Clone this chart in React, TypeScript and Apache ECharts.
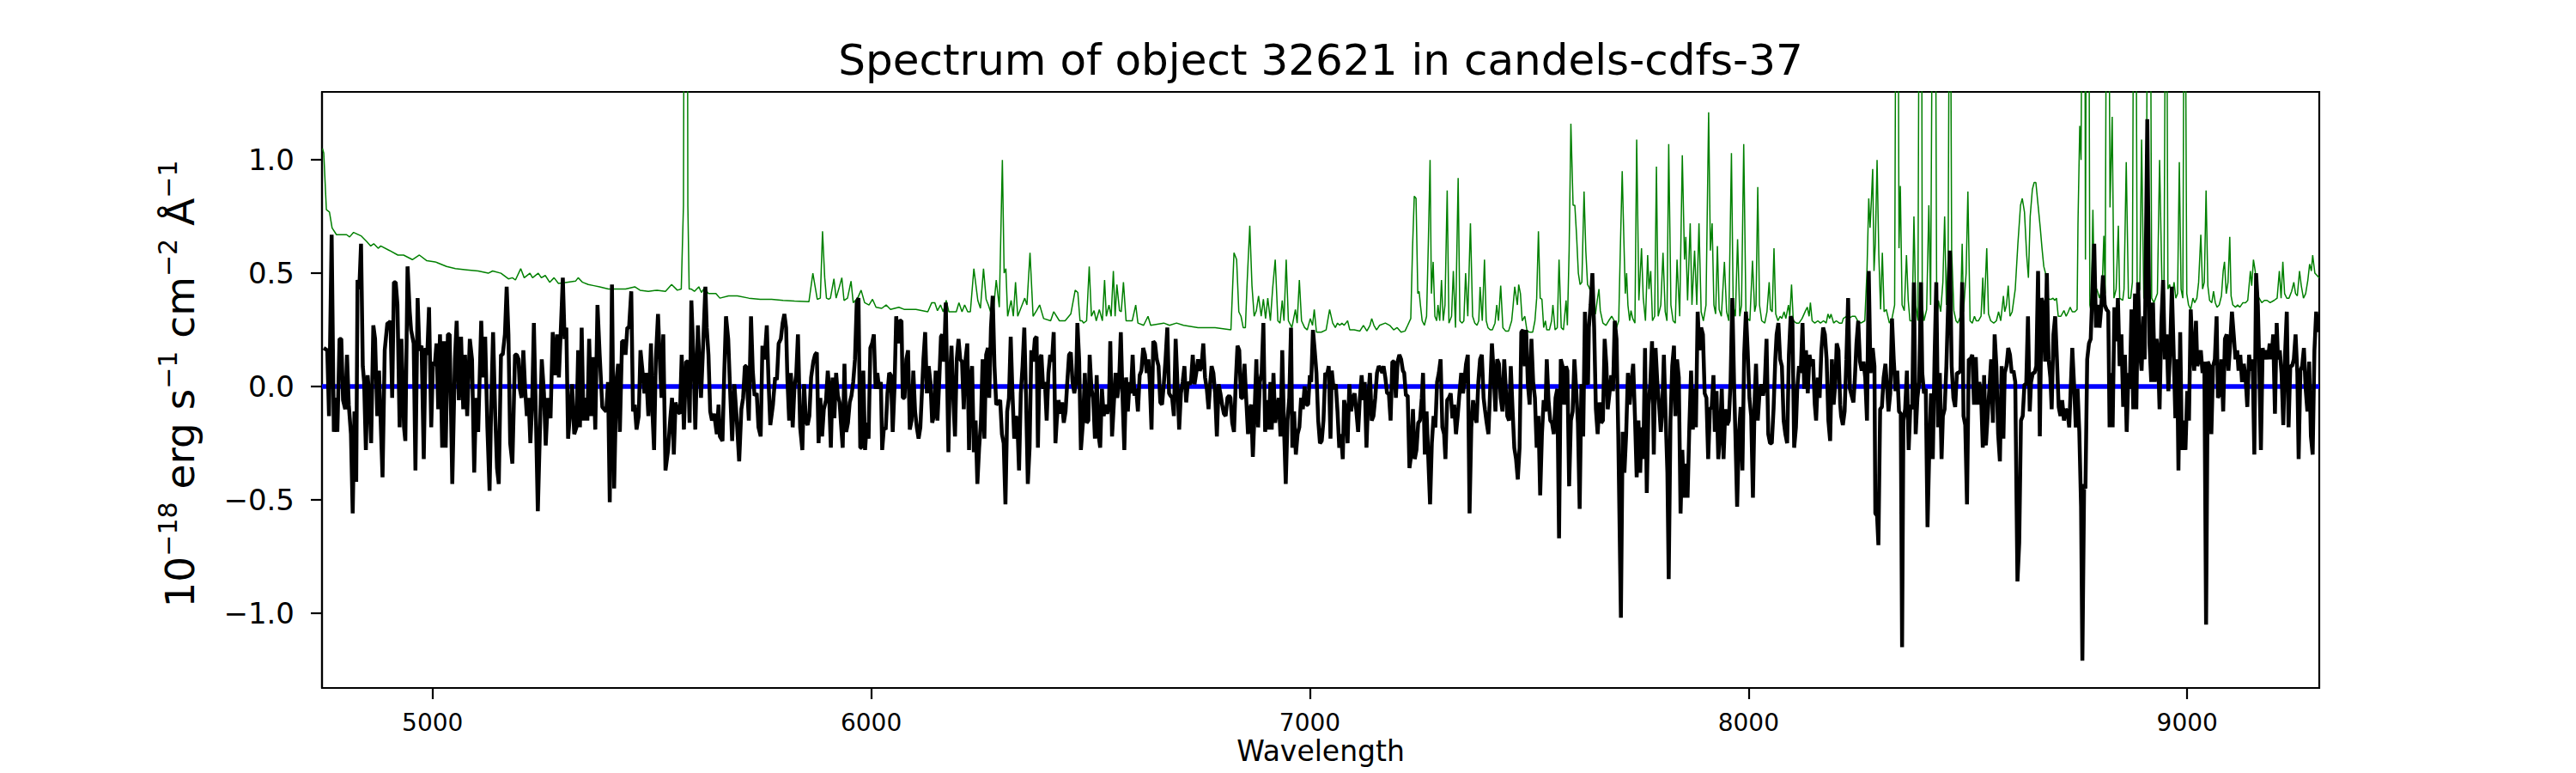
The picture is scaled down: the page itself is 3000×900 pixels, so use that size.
import React, { useEffect, useRef } from "react";
import * as echarts from "echarts";

const FONT = "DejaVu Sans";
const TITLE = "Spectrum of object 32621 in candels-cdfs-37";
const X_LABEL = "Wavelength";
const X_MIN = 4748;
const X_MAX = 9301;
const Y_MIN = -1.33;
const Y_MAX = 1.3;
const X_TICKS = [5000, 6000, 7000, 8000, 9000];
const Y_TICKS = [-1, -0.5, 0, 0.5, 1];
const ZERO_LEVEL = 0;

// Flux (black), [wavelength, flux]
const FLUX_A = [[4752,0.17],[4760,0.16],[4764,-0.13],[4770,0.67],[4775,-0.20],[4779,-0.05],[4783,-0.20],[4788,0.21],[4792,0.21],[4796,-0.06],[4801,-0.10],[4805,0.14],[4809,-0.08],[4814,-0.21],[4818,-0.56],[4822,-0.11],[4826,-0.42],[4829,0.47],[4833,0.43],[4837,0.63],[4841,0.09],[4844,0.02],[4848,-0.28],[4852,0.05],[4856,-0.05],[4860,-0.25],[4865,0.27],[4869,0.21],[4874,-0.13],[4878,0.07],[4886,-0.40],[4891,0.16],[4897,0.28],[4901,0.28],[4904,0.29],[4908,-0.05],[4912,0.46],[4916,0.46],[4920,0.36],[4925,-0.18],[4929,0.21],[4935,-0.18],[4938,-0.24],[4943,0.53],[4948,0.33],[4951,0.25],[4957,0.19],[4961,-0.37],[4966,0.39],[4970,0.16],[4975,0.18],[4980,-0.32],[4984,0.17],[4988,0.14],[4992,0.35],[4997,-0.18],[5001,0.11],[5005,0.09],[5009,0.19],[5013,-0.10],[5017,0.23],[5022,-0.27],[5026,0.20],[5030,-0.27],[5035,0.23],[5039,0.23],[5045,-0.43],[5051,0.12],[5055,0.29],[5060,-0.06],[5065,0.22],[5070,-0.10],[5074,0.14],[5079,-0.13],[5085,0.21],[5090,0.12],[5095,-0.38],[5099,-0.05],[5104,-0.20],[5111,0.29],[5115,0.04],[5120,0.22],[5125,-0.18],[5130,-0.46],[5134,-0.06],[5138,0.24],[5143,-0.13],[5147,-0.36],[5151,-0.43],[5156,0.14],[5160,0.14],[5165,0.23],[5169,0.44],[5173,0.23],[5177,-0.25],[5182,-0.34],[5188,0.14],[5192,0.14],[5196,0.12],[5199,-0.01],[5203,-0.05],[5207,0.16],[5211,-0.01],[5215,-0.13],[5219,-0.05],[5223,-0.25],[5227,-0.08],[5231,0.28],[5236,-0.17],[5240,-0.55],[5245,-0.18],[5249,0.12],[5254,-0.03],[5258,-0.26],[5263,-0.05],[5269,-0.14],[5274,0.24],[5279,0.05],[5284,0.23],[5288,0.04],[5292,0.23],[5297,0.48],[5301,0.21],[5305,0.26],[5309,-0.23],[5313,-0.13],[5318,0.01],[5323,-0.21]];
const FLUX_B = [[5328,-0.18],[5332,0.16],[5336,-0.18],[5340,0.26],[5344,-0.15],[5349,-0.05],[5353,-0.15],[5357,0.21],[5362,-0.13],[5366,0.13],[5371,-0.19],[5376,0.36],[5381,0.14],[5387,-0.09],[5391,-0.10],[5396,-0.11],[5400,0.02],[5404,-0.51],[5409,0.45],[5414,-0.45],[5419,0.02],[5423,0.10],[5427,-0.20],[5432,0.20],[5437,0.20],[5440,0.14],[5444,0.26],[5448,0.26],[5453,0.42],[5457,-0.11],[5461,-0.08],[5465,-0.19],[5470,-0.13],[5474,0.16],[5479,0.06],[5483,-0.03],[5487,0.06],[5492,-0.13],[5498,0.19],[5501,-0.10],[5505,-0.28],[5509,0.12],[5514,0.32],[5518,0.12],[5522,-0.05],[5526,0.23],[5531,-0.37],[5537,-0.28],[5542,-0.14],[5546,-0.05],[5550,-0.30],[5554,-0.07],[5559,-0.11],[5564,-0.12],[5568,0.14],[5573,-0.19],[5578,0.11],[5582,0.11],[5586,-0.16],[5590,0.38],[5595,0.12],[5599,-0.19],[5605,0.27],[5608,0.12],[5612,-0.05],[5616,0.14],[5622,0.44],[5625,0.26],[5629,0.14],[5633,-0.11],[5637,-0.15],[5642,-0.12],[5648,-0.21],[5652,-0.08],[5655,-0.22],[5661,-0.24],[5665,0.06],[5669,0.31],[5674,0.21],[5679,-0.05],[5683,-0.24],[5688,0.01],[5693,-0.13],[5699,-0.33],[5704,-0.10],[5708,-0.05],[5712,0.09],[5715,0.09],[5721,-0.15],[5726,0.31],[5730,0.07],[5734,-0.04],[5739,-0.03],[5743,-0.18],[5748,-0.22],[5752,0.18],[5757,0.12],[5762,0.27],[5766,0.02],[5770,-0.17],[5776,-0.08],[5781,0.04],[5785,0.03],[5789,0.19],[5794,0.21],[5798,0.28],[5802,0.32],[5806,0.26],[5809,0.03],[5813,-0.15],[5817,0.06],[5821,-0.18],[5825,0.00],[5829,0.05],[5833,0.23],[5838,-0.18],[5843,-0.28],[5847,0.01],[5851,-0.15],[5855,-0.17],[5859,-0.13],[5863,0.04],[5868,0.11],[5872,0.14],[5876,0.15],[5880,-0.25],[5884,-0.05],[5888,-0.22],[5892,-0.10],[5897,-0.06],[5901,0.07]];
const FLUX_C = [[5903,0.02],[5908,-0.27],[5912,0.04],[5916,-0.14],[5920,0.06],[5924,-0.04],[5928,-0.07],[5931,-0.16],[5935,-0.27],[5939,0.10],[5943,-0.20],[5947,-0.16],[5951,-0.07],[5955,-0.04],[5959,0.02],[5963,0.12],[5967,0.37],[5971,0.39],[5975,-0.27],[5978,-0.27],[5982,0.07],[5986,-0.28],[5990,-0.16],[5994,-0.23],[5998,0.17],[6002,0.19],[6006,0.23],[6010,-0.01],[6014,0.06],[6018,-0.01],[6022,0.02],[6025,-0.28],[6029,-0.18],[6033,-0.19],[6037,-0.03],[6041,0.06],[6045,0.05],[6049,-0.20],[6053,-0.01],[6057,0.31],[6061,0.19],[6065,0.29],[6069,0.29],[6072,-0.05],[6076,-0.05],[6080,0.12],[6084,0.16],[6088,-0.19],[6092,-0.15],[6096,0.07],[6100,-0.11],[6104,-0.18],[6108,-0.23],[6112,-0.18],[6116,-0.01],[6119,0.12],[6123,0.24],[6127,-0.03],[6131,0.09],[6135,0.02],[6139,-0.16],[6143,-0.13],[6147,0.07],[6151,-0.15],[6155,0.02],[6159,0.22],[6162,0.23],[6166,0.11],[6170,0.37],[6176,-0.29],[6179,0.02],[6183,0.18],[6187,-0.05],[6191,-0.22],[6195,0.12],[6199,0.21],[6203,0.12],[6207,0.11],[6211,-0.10],[6215,0.12],[6219,0.19],[6223,-0.28],[6226,0.02],[6230,0.09],[6234,-0.29],[6238,-0.15],[6242,-0.43],[6246,-0.27],[6250,-0.16],[6254,0.12],[6258,-0.23],[6262,0.14],[6266,0.17],[6269,-0.05],[6273,0.26],[6277,0.40],[6281,0.09],[6285,-0.08],[6290,-0.07],[6294,-0.06],[6298,-0.21],[6302,-0.25],[6306,-0.52],[6310,-0.11],[6314,-0.05],[6318,0.22],[6322,-0.03],[6326,-0.23],[6330,-0.13],[6333,-0.15],[6337,-0.37],[6341,-0.03],[6345,0.09],[6349,0.26],[6353,-0.05],[6357,-0.43],[6361,-0.27],[6365,0.16],[6369,0.11],[6373,0.21],[6377,0.22],[6380,-0.27],[6384,0.12],[6388,0.14],[6392,-0.01],[6396,0.02],[6400,-0.15],[6404,0.06],[6408,0.14],[6412,0.11],[6416,0.24],[6420,-0.25],[6423,-0.15],[6427,-0.06],[6431,-0.12],[6435,-0.07],[6439,-0.16],[6443,-0.11],[6447,0.02],[6451,0.14],[6455,0.15],[6459,0.02],[6463,-0.03],[6467,0.02],[6470,0.28],[6474,0.12],[6478,-0.28]];
const FLUX_D = [[6483,-0.15],[6487,0.06],[6491,-0.16],[6495,-0.15],[6498,0.14],[6502,-0.01],[6506,-0.05],[6510,-0.23],[6514,0.05],[6518,-0.21],[6522,-0.27],[6526,-0.01],[6530,-0.13],[6534,-0.08],[6538,-0.12],[6542,-0.08],[6545,0.20],[6549,-0.22],[6553,-0.08],[6557,0.06],[6561,-0.05],[6565,0.02],[6569,0.24],[6573,-0.05],[6577,-0.28],[6581,0.04],[6585,-0.11],[6589,0.02],[6592,-0.03],[6596,0.14],[6600,-0.04],[6604,-0.01],[6608,-0.11],[6612,0.05],[6616,0.07],[6620,0.17],[6624,0.14],[6628,0.06],[6632,0.12],[6635,0.02],[6639,-0.19],[6643,0.20],[6647,0.19],[6651,0.12],[6655,0.09],[6659,-0.07],[6663,-0.08],[6667,0.01],[6671,0.12],[6675,0.26],[6679,-0.03],[6682,-0.04],[6686,-0.05],[6690,-0.13],[6694,0.21],[6698,0.02],[6702,-0.19],[6706,-0.03],[6710,0.02],[6714,0.09],[6718,-0.07],[6722,0.02],[6726,0.01],[6729,0.02],[6733,0.14],[6737,0.01],[6741,0.06],[6745,0.12],[6749,0.07],[6753,0.09],[6757,0.19],[6761,0.04],[6765,-0.01],[6769,-0.10],[6773,0.02],[6776,0.09],[6780,0.06],[6784,-0.03],[6788,-0.22],[6792,0.01],[6796,-0.03],[6800,-0.08],[6804,-0.12],[6808,-0.13],[6812,-0.05],[6816,-0.04],[6819,-0.05],[6823,-0.16],[6827,-0.20],[6831,0.02],[6835,0.18],[6839,0.16],[6843,-0.05],[6847,-0.05],[6851,0.10],[6855,-0.06],[6859,-0.21],[6863,-0.10],[6866,-0.08],[6870,-0.31],[6874,-0.11],[6878,0.12],[6882,-0.18],[6886,0.02],[6890,0.06],[6894,0.28],[6898,-0.20],[6902,-0.06],[6906,-0.19],[6910,0.02],[6913,-0.19],[6917,0.06],[6921,-0.16],[6925,-0.10],[6929,-0.05],[6933,-0.22],[6937,0.16],[6941,-0.18],[6945,-0.43],[6949,-0.15],[6953,-0.05],[6957,0.26],[6960,-0.27],[6964,-0.11],[6968,-0.30],[6972,-0.21],[6976,-0.18],[6980,-0.05],[6984,-0.10],[6988,0.00],[6992,-0.08],[6996,-0.08],[7000,0.05],[7003,0.02],[7007,0.25],[7011,0.16],[7015,0.06],[7019,-0.15],[7023,-0.25],[7027,-0.24],[7031,-0.15],[7035,0.06],[7039,0.05],[7043,0.09],[7047,-0.23],[7050,0.07],[7054,-0.01]];
const FLUX_E = [[7059,0.01],[7063,-0.11],[7067,-0.27],[7071,-0.21],[7075,-0.32],[7078,-0.06],[7082,-0.10],[7086,-0.25],[7090,0.01],[7094,-0.11],[7098,-0.05],[7102,-0.03],[7106,-0.11],[7110,-0.20],[7114,-0.05],[7118,0.05],[7122,-0.06],[7125,0.02],[7129,-0.27],[7133,-0.05],[7137,0.06],[7141,-0.15],[7145,-0.13],[7149,-0.05],[7153,0.06],[7157,0.09],[7161,0.08],[7165,0.06],[7168,0.09],[7172,0.04],[7176,-0.03],[7180,-0.03],[7184,-0.15],[7188,0.11],[7192,0.11],[7196,-0.05],[7200,0.11],[7204,0.14],[7208,0.12],[7212,0.07],[7215,0.06],[7219,-0.04],[7223,-0.04],[7227,-0.36],[7231,-0.30],[7235,-0.10],[7239,-0.32],[7243,-0.28],[7247,-0.16],[7251,-0.15],[7255,-0.05],[7258,0.06],[7262,-0.30],[7266,-0.11],[7270,-0.32],[7274,-0.52],[7278,-0.25],[7282,-0.13],[7286,-0.18],[7290,0.02],[7294,0.06],[7298,0.12],[7302,-0.18],[7306,-0.21],[7309,-0.32],[7313,-0.06],[7317,-0.05],[7321,-0.03],[7325,-0.14],[7329,-0.08],[7333,-0.21],[7337,-0.13],[7341,-0.03],[7345,0.06],[7349,-0.03],[7352,0.02],[7356,0.10],[7360,0.14],[7364,-0.56],[7368,-0.18],[7372,-0.06],[7376,-0.13],[7380,-0.16],[7384,0.02],[7388,0.12],[7392,0.14],[7396,-0.05],[7399,-0.10],[7403,-0.16],[7407,-0.21],[7411,-0.01],[7415,0.19],[7419,0.06],[7423,-0.11],[7427,0.12],[7431,0.10],[7435,-0.05],[7439,-0.11],[7443,0.12],[7446,0.01],[7450,-0.13],[7454,-0.15],[7458,0.09],[7462,-0.10],[7466,-0.27],[7470,-0.32],[7474,-0.41],[7478,-0.27],[7482,0.24],[7486,0.25],[7490,0.09],[7493,0.25],[7497,0.01],[7501,-0.08],[7505,0.21],[7509,0.02],[7513,-0.05],[7517,-0.27],[7521,-0.13],[7525,-0.48],[7529,-0.21],[7533,-0.06],[7537,-0.11],[7540,0.12],[7544,-0.06],[7548,-0.15],[7552,-0.16],[7556,-0.21],[7560,-0.05],[7564,-0.01],[7568,-0.67],[7572,0.12],[7576,0.09],[7580,-0.08],[7584,0.09],[7587,0.07],[7591,-0.44],[7595,-0.15],[7599,-0.11],[7603,0.12],[7607,-0.01],[7611,-0.16],[7615,-0.54],[7619,0.01],[7623,-0.22],[7627,0.33],[7631,0.02],[7634,0.01]];
const FLUX_F = [[7636,0.26],[7640,0.36],[7644,0.50],[7648,0.26],[7652,-0.10],[7656,-0.21],[7660,-0.07],[7664,-0.16],[7668,-0.15],[7672,0.21],[7676,0.09],[7679,-0.10],[7683,-0.03],[7687,0.05],[7691,-0.02],[7695,0.29],[7699,0.21],[7703,-0.21],[7709,-1.02],[7713,-0.20],[7717,-0.38],[7721,-0.21],[7725,0.06],[7729,-0.08],[7733,0.02],[7737,0.10],[7741,-0.13],[7745,-0.40],[7749,-0.15],[7753,-0.38],[7756,-0.18],[7760,-0.32],[7764,0.17],[7768,-0.47],[7772,-0.08],[7776,0.01],[7780,0.20],[7784,-0.30],[7788,0.17],[7792,0.02],[7796,-0.08],[7800,-0.20],[7803,-0.11],[7807,0.14],[7811,-0.13],[7815,-0.38],[7818,-0.85],[7822,-0.15],[7826,0.09],[7830,0.18],[7833,-0.13],[7837,0.12],[7841,0.04],[7845,-0.56],[7849,-0.28],[7853,-0.49],[7857,-0.34],[7861,-0.49],[7865,-0.18],[7869,0.07],[7873,-0.19],[7877,-0.01],[7880,-0.18],[7884,0.33],[7888,0.16],[7892,0.26],[7896,0.23],[7900,-0.03],[7904,-0.05],[7908,-0.32],[7912,-0.10],[7916,-0.09],[7920,0.05],[7923,-0.20],[7927,-0.02],[7931,-0.32],[7935,-0.21],[7939,-0.01],[7943,-0.32],[7947,-0.10],[7951,-0.17],[7955,-0.15],[7959,0.02],[7963,0.39],[7967,0.01],[7970,-0.21],[7974,-0.53],[7978,-0.21],[7982,-0.09],[7986,-0.37],[7990,0.14],[7994,0.33],[7998,0.16],[8002,-0.05],[8006,-0.13],[8010,-0.49],[8014,-0.05],[8017,0.10],[8021,-0.15],[8025,-0.03],[8029,0.01],[8033,-0.04],[8037,0.01],[8041,0.21],[8045,-0.21],[8049,-0.25],[8053,-0.25],[8057,-0.10],[8061,0.12],[8064,0.23],[8068,0.28],[8072,0.12],[8076,0.09],[8080,-0.15],[8084,-0.21],[8088,-0.25],[8092,0.14],[8096,0.31],[8100,0.29],[8104,-0.27],[8108,-0.18],[8111,-0.01],[8115,0.09],[8119,0.06],[8123,0.28],[8127,-0.01],[8131,0.16],[8135,-0.03],[8139,0.14],[8143,0.09],[8147,0.12],[8151,-0.08],[8154,-0.15],[8158,0.04],[8162,-0.05],[8166,0.16],[8170,0.26],[8174,0.23],[8178,0.12],[8182,-0.15],[8186,-0.24],[8190,0.12],[8194,-0.08],[8198,0.02],[8201,0.19],[8205,0.16],[8209,-0.08]];
const FLUX_G = [[8211,-0.13],[8215,-0.17],[8219,-0.11],[8223,0.12],[8227,0.39],[8231,-0.01],[8235,-0.04],[8239,-0.07],[8242,0.02],[8246,0.19],[8250,0.29],[8254,0.11],[8258,0.07],[8262,0.11],[8266,0.04],[8270,-0.15],[8274,0.51],[8278,0.06],[8283,0.17],[8287,0.09],[8289,-0.56],[8293,-0.57],[8296,-0.70],[8300,-0.10],[8304,-0.09],[8308,0.04],[8312,0.10],[8316,-0.01],[8319,-0.11],[8323,-0.03],[8327,0.30],[8331,0.12],[8335,-0.02],[8339,0.07],[8343,-0.11],[8347,-0.12],[8350,-1.15],[8353,-0.15],[8357,-0.10],[8361,0.07],[8365,-0.28],[8369,-0.08],[8373,-0.10],[8377,0.46],[8381,-0.21],[8385,-0.05],[8389,0.02],[8393,0.46],[8396,0.06],[8400,-0.03],[8404,-0.01],[8408,-0.62],[8412,-0.28],[8416,-0.03],[8420,-0.32],[8424,0.12],[8428,0.46],[8432,-0.18],[8436,0.06],[8440,-0.32],[8443,-0.13],[8447,-0.10],[8451,0.09],[8455,0.36],[8459,0.60],[8463,0.09],[8467,-0.05],[8471,-0.09],[8475,0.06],[8479,0.06],[8483,0.07],[8487,0.46],[8490,-0.13],[8494,-0.17],[8498,-0.52],[8502,0.12],[8506,0.12],[8510,0.14],[8514,-0.08],[8518,0.13],[8522,-0.08],[8526,0.02],[8530,-0.03],[8534,-0.27],[8537,0.05],[8541,-0.26],[8545,-0.13],[8549,-0.01],[8553,0.12],[8557,-0.16],[8561,0.23],[8565,0.09],[8569,-0.21],[8573,-0.33],[8577,0.09],[8581,-0.23],[8584,0.06],[8588,0.09],[8592,0.17],[8596,0.14],[8600,0.06],[8604,0.07],[8608,0.02],[8611,-0.52],[8613,-0.86],[8617,-0.69],[8621,-0.15],[8625,-0.13],[8629,0.01],[8633,0.01],[8637,0.31],[8641,-0.11],[8644,0.02],[8648,0.06],[8652,0.06],[8656,0.09],[8660,0.51],[8664,-0.22],[8668,0.39],[8672,0.36],[8676,0.11],[8680,0.50],[8684,0.12],[8688,0.04],[8691,-0.10],[8695,0.23],[8699,0.31],[8703,0.12],[8707,-0.09],[8711,-0.13],[8715,-0.06],[8719,-0.15],[8723,-0.10],[8727,-0.11],[8731,-0.18],[8734,-0.03],[8738,0.17],[8742,0.01],[8746,-0.18],[8750,-0.01],[8754,-0.20],[8758,-0.53],[8761,-1.21],[8765,-0.43],[8768,-0.45],[8772,0.12],[8776,0.19],[8780,0.21],[8784,0.43],[8788,0.63]];
const FLUX_H = [[8792,0.26],[8796,0.36],[8800,0.26],[8804,0.35],[8808,0.49],[8812,0.36],[8816,0.34],[8820,0.33],[8823,-0.18],[8826,0.06],[8830,-0.18],[8834,0.35],[8838,0.20],[8842,0.39],[8846,0.09],[8850,0.23],[8854,-0.09],[8858,0.14],[8862,-0.20],[8866,0.06],[8869,-0.01],[8873,0.34],[8877,-0.10],[8881,0.41],[8884,-0.10],[8888,0.46],[8892,0.16],[8896,0.07],[8900,0.31],[8903,0.12],[8909,1.18],[8914,0.19],[8918,0.02],[8922,0.37],[8926,0.02],[8930,0.21],[8933,0.16],[8937,-0.10],[8941,0.28],[8945,0.47],[8949,0.12],[8953,0.23],[8957,-0.02],[8961,0.16],[8965,0.44],[8969,0.16],[8973,-0.14],[8977,0.12],[8980,-0.37],[8984,0.24],[8988,-0.28],[8992,-0.15],[8996,-0.28],[9000,-0.02],[9004,-0.15],[9008,0.34],[9012,0.16],[9016,0.07],[9020,0.29],[9023,0.09],[9027,0.12],[9031,0.16],[9035,0.06],[9039,0.11],[9043,-1.05],[9047,0.11],[9051,0.09],[9055,-0.21],[9059,0.09],[9063,0.12],[9067,0.31],[9070,-0.05],[9074,-0.03],[9078,0.12],[9082,-0.11],[9086,0.21],[9090,0.23],[9094,0.07],[9098,0.19],[9102,0.33],[9106,0.23],[9110,0.12],[9114,0.16],[9117,0.07],[9121,0.14],[9125,0.02],[9129,0.10],[9133,0.04],[9137,-0.09],[9141,0.14],[9145,0.07],[9149,0.12],[9153,-0.30],[9157,0.50],[9161,0.36],[9164,0.12],[9168,-0.28],[9172,0.17],[9176,0.12],[9180,0.16],[9184,0.12],[9188,0.19],[9192,0.12],[9196,0.23],[9200,-0.12],[9204,0.28],[9207,0.12],[9211,0.16],[9215,0.06],[9219,-0.17],[9223,0.14],[9227,0.33],[9231,-0.18],[9235,0.09],[9239,0.09],[9243,0.12],[9247,0.23],[9251,0.06],[9254,-0.32],[9258,0.07],[9262,0.09],[9266,0.17],[9270,-0.01],[9274,-0.11],[9278,0.11],[9282,-0.22],[9286,-0.30],[9290,0.16],[9294,0.33],[9298,0.24]];

// Error spectrum (green), [wavelength, error]
const ERR_A = [[4749,1.05],[4752,1.03],[4758,0.78],[4765,0.77],[4771,0.70],[4781,0.67],[4804,0.67],[4811,0.66],[4820,0.68],[4837,0.665],[4850,0.64],[4859,0.62],[4866,0.63],[4876,0.61],[4882,0.62],[4902,0.60],[4921,0.58],[4934,0.58],[4954,0.56],[4970,0.58],[4987,0.555],[5006,0.55],[5032,0.53],[5052,0.52],[5078,0.515],[5104,0.51],[5127,0.50],[5137,0.51],[5156,0.50],[5173,0.475],[5182,0.48],[5189,0.47],[5201,0.52],[5209,0.48],[5222,0.50],[5228,0.48],[5241,0.50],[5248,0.48],[5257,0.49],[5267,0.46],[5277,0.48],[5287,0.455],[5306,0.46],[5326,0.465]];
const ERR_B = [[5332,0.48],[5342,0.46],[5355,0.45],[5368,0.445],[5381,0.44],[5401,0.43],[5421,0.43],[5440,0.43],[5461,0.44],[5473,0.425],[5492,0.42],[5512,0.425],[5531,0.42],[5545,0.45],[5558,0.425],[5567,0.43],[5572,0.80],[5575,3.0],[5580,3.0],[5582,0.80],[5585,0.43],[5590,0.43],[5597,0.42],[5607,0.44],[5613,0.415],[5620,0.435],[5629,0.41],[5646,0.41],[5655,0.39],[5675,0.40],[5695,0.40],[5721,0.39],[5747,0.385],[5773,0.385],[5799,0.38],[5825,0.377],[5858,0.374],[5867,0.50],[5877,0.385],[5884,0.39],[5889,0.685],[5894,0.48],[5898,0.39],[5903,0.385]];
const ERR_C = [[5907,0.39],[5915,0.475],[5920,0.39],[5926,0.43],[5933,0.48],[5938,0.38],[5946,0.39],[5954,0.465],[5959,0.37],[5969,0.39],[5977,0.425],[5985,0.37],[5995,0.36],[6003,0.385],[6011,0.35],[6024,0.345],[6034,0.36],[6044,0.34],[6063,0.35],[6076,0.34],[6102,0.34],[6129,0.33],[6138,0.37],[6145,0.37],[6151,0.335],[6158,0.36],[6164,0.33],[6171,0.38],[6177,0.33],[6194,0.33],[6200,0.37],[6207,0.33],[6213,0.36],[6220,0.33],[6226,0.33],[6234,0.52],[6243,0.38],[6249,0.345],[6256,0.52],[6262,0.385],[6267,0.36],[6272,0.33],[6279,0.345],[6285,0.47],[6292,0.35],[6299,1.0],[6303,0.50],[6307,0.52],[6311,0.31],[6319,0.38],[6324,0.31],[6329,0.46],[6334,0.31],[6344,0.36],[6350,0.39],[6355,0.36],[6362,0.59],[6369,0.31],[6377,0.335],[6384,0.36],[6393,0.30],[6409,0.29],[6416,0.33],[6429,0.29],[6442,0.29],[6455,0.32],[6465,0.425],[6471,0.415],[6476,0.29],[6481,0.29]];
const ERR_D = [[6484,0.28],[6491,0.29],[6497,0.53],[6502,0.31],[6508,0.335],[6513,0.29],[6520,0.34],[6527,0.29],[6532,0.47],[6536,0.31],[6542,0.36],[6547,0.31],[6552,0.51],[6556,0.31],[6560,0.45],[6566,0.335],[6570,0.33],[6575,0.46],[6581,0.29],[6595,0.29],[6603,0.36],[6608,0.28],[6621,0.27],[6631,0.31],[6637,0.27],[6667,0.28],[6680,0.27],[6696,0.28],[6712,0.27],[6745,0.26],[6784,0.26],[6820,0.25],[6827,0.59],[6833,0.56],[6838,0.33],[6843,0.31],[6848,0.26],[6853,0.26],[6857,0.46],[6863,0.71],[6868,0.445],[6873,0.31],[6878,0.335],[6883,0.40],[6889,0.31],[6894,0.385],[6899,0.30],[6904,0.39],[6910,0.29],[6915,0.43],[6921,0.56],[6927,0.29],[6932,0.28],[6937,0.38],[6941,0.29],[6946,0.56],[6951,0.29],[6959,0.26],[6967,0.34],[6971,0.28],[6976,0.47],[6981,0.29],[6988,0.26],[6994,0.25],[7001,0.30],[7006,0.27],[7010,0.34],[7015,0.24],[7026,0.24],[7037,0.25],[7045,0.34],[7052,0.28],[7058,0.26]];
const ERR_E = [[7063,0.28],[7068,0.27],[7073,0.28],[7078,0.27],[7082,0.28],[7086,0.29],[7091,0.25],[7101,0.25],[7114,0.245],[7122,0.27],[7130,0.245],[7137,0.27],[7141,0.30],[7146,0.27],[7152,0.25],[7159,0.27],[7172,0.28],[7182,0.27],[7191,0.25],[7199,0.26],[7208,0.24],[7217,0.245],[7223,0.27],[7230,0.30],[7234,0.61],[7238,0.84],[7242,0.83],[7246,0.41],[7249,0.42],[7252,0.36],[7256,0.29],[7261,0.27],[7266,0.31],[7270,0.63],[7274,1.0],[7277,0.41],[7281,0.55],[7285,0.31],[7289,0.29],[7292,0.36],[7296,0.29],[7300,0.47],[7304,0.29],[7308,0.36],[7313,0.865],[7317,0.28],[7323,0.31],[7327,0.51],[7332,0.26],[7338,0.92],[7342,0.29],[7347,0.28],[7351,0.29],[7355,0.50],[7360,0.31],[7366,0.72],[7371,0.31],[7376,0.28],[7381,0.27],[7385,0.29],[7388,0.44],[7393,0.29],[7398,0.56],[7402,0.29],[7406,0.26],[7411,0.25],[7416,0.25],[7422,0.28],[7426,0.36],[7430,0.29],[7435,0.445],[7440,0.26],[7446,0.245],[7453,0.245],[7460,0.29],[7463,0.35],[7467,0.44],[7473,0.36],[7476,0.45],[7480,0.41],[7484,0.29],[7490,0.31],[7495,0.245],[7501,0.24],[7508,0.24],[7513,0.29],[7517,0.39],[7521,0.685],[7525,0.39],[7529,0.385],[7533,0.26],[7537,0.29],[7540,0.25],[7546,0.25],[7551,0.29],[7554,0.36],[7559,0.25],[7564,0.26],[7568,0.56],[7573,0.26],[7578,0.25],[7584,0.38],[7587,0.27],[7591,0.60],[7595,1.16],[7600,0.80],[7604,0.80],[7608,0.665],[7612,0.50],[7616,0.45],[7620,0.46],[7625,0.86],[7629,0.60],[7633,0.45],[7636,0.44]];
const ERR_F = [[7640,0.42],[7646,0.33],[7651,0.32],[7655,0.38],[7659,0.43],[7662,0.335],[7668,0.28],[7675,0.27],[7681,0.29],[7688,0.31],[7694,0.29],[7699,0.26],[7704,0.29],[7708,0.63],[7712,0.95],[7716,0.63],[7719,0.41],[7722,0.50],[7725,0.36],[7729,0.29],[7732,0.335],[7736,0.30],[7741,0.28],[7745,1.09],[7750,0.38],[7756,0.61],[7760,0.39],[7765,0.29],[7770,0.58],[7773,0.43],[7777,0.51],[7781,0.29],[7786,0.31],[7790,0.97],[7794,0.31],[7800,0.36],[7805,0.59],[7810,0.33],[7814,0.29],[7818,1.07],[7823,0.36],[7828,0.29],[7833,0.28],[7837,0.56],[7843,0.31],[7849,1.02],[7854,0.56],[7857,0.66],[7861,0.38],[7867,0.72],[7871,0.36],[7877,0.60],[7882,0.36],[7887,0.72],[7892,0.33],[7897,0.29],[7903,0.36],[7909,1.21],[7913,0.60],[7917,0.72],[7921,0.36],[7925,0.32],[7929,0.62],[7933,0.34],[7938,0.31],[7945,0.55],[7950,0.33],[7955,0.29],[7961,1.03],[7965,0.36],[7970,0.31],[7975,0.65],[7980,0.31],[7984,0.36],[7989,1.07],[7994,0.335],[7998,0.30],[8003,0.29],[8009,0.555],[8014,0.33],[8017,0.36],[8021,0.88],[8025,0.36],[8030,0.29],[8037,0.28],[8042,0.33],[8047,0.46],[8050,0.34],[8054,0.33],[8058,0.61],[8062,0.32],[8067,0.29],[8072,0.31],[8076,0.30],[8081,0.33],[8085,0.30],[8091,0.36],[8094,0.31],[8098,0.45],[8102,0.29],[8109,0.28],[8115,0.28],[8122,0.30],[8130,0.335],[8134,0.35],[8138,0.31],[8141,0.37],[8145,0.29],[8151,0.28],[8158,0.29],[8164,0.28],[8171,0.29],[8177,0.28],[8181,0.32],[8185,0.30],[8188,0.32],[8194,0.28],[8200,0.29],[8207,0.28],[8213,0.28]];
const ERR_G = [[8216,0.30],[8223,0.31],[8229,0.30],[8236,0.31],[8243,0.31],[8249,0.29],[8256,0.28],[8265,0.29],[8270,0.51],[8274,0.83],[8277,0.70],[8280,0.82],[8283,0.96],[8286,0.51],[8289,0.63],[8293,1.0],[8297,0.58],[8301,0.34],[8305,0.59],[8309,0.33],[8314,0.34],[8321,0.28],[8327,0.30],[8333,0.36],[8337,2.5],[8340,2.5],[8343,0.61],[8346,0.885],[8350,0.36],[8355,0.335],[8360,0.58],[8364,0.38],[8368,0.29],[8373,0.29],[8377,0.75],[8381,0.36],[8386,0.29],[8390,2.5],[8394,2.5],[8396,0.36],[8400,0.29],[8406,0.34],[8411,0.80],[8415,0.36],[8421,2.5],[8425,2.5],[8429,0.29],[8433,0.38],[8438,0.33],[8443,0.46],[8447,0.75],[8451,0.36],[8455,0.56],[8459,2.5],[8463,0.60],[8468,0.335],[8473,0.29],[8477,0.28],[8483,0.31],[8487,0.63],[8490,0.33],[8496,0.50],[8500,0.86],[8505,0.29],[8510,0.28],[8515,0.31],[8519,0.29],[8524,0.29],[8530,0.31],[8534,0.48],[8537,0.32],[8543,0.61],[8547,0.32],[8552,0.29],[8559,0.28],[8565,0.29],[8570,0.33],[8575,0.29],[8581,0.40],[8584,0.33],[8588,0.36],[8592,0.445],[8596,0.31],[8601,0.33],[8608,0.43],[8614,0.63],[8620,0.80],[8624,0.83],[8629,0.77],[8634,0.58],[8638,0.48],[8642,0.75],[8647,0.87],[8651,0.90],[8655,0.90],[8660,0.80],[8665,0.70],[8669,0.61],[8673,0.53],[8677,0.50],[8682,0.39],[8686,0.385],[8690,0.385],[8694,0.39],[8698,0.38],[8702,0.39],[8706,0.31],[8712,0.31],[8719,0.335],[8724,0.31],[8729,0.33],[8733,0.35],[8738,0.33],[8744,0.33],[8749,0.34],[8751,0.72],[8755,1.15],[8758,1.0],[8762,2.5],[8766,2.5],[8768,0.56],[8771,2.5],[8775,2.5],[8778,0.36],[8781,0.33],[8785,0.78]];
const ERR_H = [[8787,0.55],[8791,0.41],[8794,0.43],[8800,0.39],[8806,0.43],[8810,0.665],[8813,0.41],[8817,2.5],[8820,2.5],[8824,0.79],[8829,1.19],[8833,0.39],[8838,0.43],[8843,0.71],[8846,0.39],[8853,0.38],[8856,0.43],[8861,0.99],[8866,0.39],[8871,0.39],[8875,0.46],[8879,2.5],[8882,2.5],[8886,0.39],[8892,0.43],[8896,1.09],[8901,0.39],[8906,0.39],[8911,2.5],[8915,2.5],[8919,0.39],[8924,0.37],[8932,0.41],[8937,1.0],[8943,0.39],[8947,0.41],[8952,2.5],[8956,0.43],[8960,0.45],[8965,0.39],[8970,0.46],[8974,0.39],[8978,0.41],[8982,0.99],[8986,0.43],[8990,0.39],[8994,2.5],[8999,0.41],[9003,0.36],[9008,0.34],[9013,0.39],[9017,0.37],[9022,0.39],[9026,0.46],[9031,0.67],[9035,0.43],[9039,0.46],[9043,0.865],[9047,0.445],[9051,0.38],[9056,0.37],[9060,0.42],[9064,0.37],[9068,0.35],[9073,0.36],[9078,0.40],[9082,0.51],[9085,0.55],[9089,0.41],[9093,0.46],[9097,0.66],[9100,0.40],[9104,0.36],[9110,0.35],[9115,0.36],[9120,0.35],[9127,0.37],[9133,0.37],[9138,0.38],[9144,0.51],[9147,0.445],[9151,0.56],[9155,0.51],[9159,0.40],[9164,0.39],[9170,0.37],[9176,0.38],[9182,0.38],[9189,0.37],[9198,0.38],[9205,0.39],[9210,0.51],[9214,0.39],[9218,0.55],[9222,0.41],[9227,0.39],[9232,0.39],[9238,0.42],[9243,0.46],[9247,0.41],[9251,0.40],[9256,0.51],[9260,0.445],[9265,0.39],[9270,0.41],[9275,0.47],[9279,0.54],[9283,0.51],[9286,0.58],[9291,0.50],[9296,0.49],[9301,0.48]];

const FLUX = [...FLUX_A, ...FLUX_B, ...FLUX_C, ...FLUX_D, ...FLUX_E, ...FLUX_F, ...FLUX_G, ...FLUX_H];
const ERR = [...ERR_A, ...ERR_B, ...ERR_C, ...ERR_D, ...ERR_E, ...ERR_F, ...ERR_G, ...ERR_H];
const ZERO = [[X_MIN, ZERO_LEVEL], [X_MAX, ZERO_LEVEL]];

const fmtY = (v: number) => (v < 0 ? "\u2212" : "") + Math.abs(v).toFixed(1);

export default function App() {
  const ref = useRef<HTMLDivElement>(null);
  useEffect(() => {
    if (!ref.current) return;
    const chart = echarts.init(ref.current, null, { renderer: "svg" });
    chart.setOption({
      animation: false,
      backgroundColor: "#ffffff",
      grid: {
        left: 375,
        right: 299,
        top: 107,
        bottom: 99,
        show: true,
        borderColor: "#000",
        borderWidth: 2.2,
        backgroundColor: "transparent",
        containLabel: false,
        outerBoundsMode: "none",
      },
      xAxis: {
        type: "value",
        min: X_MIN,
        max: X_MAX,
        axisLine: { show: true, onZero: false, lineStyle: { color: "#000", width: 2.2 } },
        axisTick: { show: true, length: 13, lineStyle: { color: "#000", width: 2.2 }, customValues: X_TICKS },
        axisLabel: {
          customValues: X_TICKS,
          fontSize: 28,
          fontFamily: FONT,
          color: "#000",
          margin: 26,
          formatter: (v: number) => String(v),
        },
        splitLine: { show: false },
      },
      yAxis: {
        type: "value",
        min: Y_MIN,
        max: Y_MAX,
        axisLine: { show: true, onZero: false, lineStyle: { color: "#000", width: 2.2 } },
        axisTick: { show: true, length: 13, lineStyle: { color: "#000", width: 2.2 }, customValues: Y_TICKS },
        axisLabel: {
          customValues: Y_TICKS,
          fontSize: 34,
          fontFamily: FONT,
          color: "#000",
          margin: 32,
          formatter: fmtY,
        },
        splitLine: { show: false },
      },
      graphic: [
        {
          type: "text",
          x: 1538,
          y: 70,
          silent: true,
          style: {
            text: TITLE,
            fontSize: 50,
            fontFamily: FONT,
            fill: "#000",
            align: "center",
            verticalAlign: "middle",
            textAlign: "center",
            textVerticalAlign: "middle",
          },
        },
        {
          type: "text",
          x: 1538,
          y: 874,
          silent: true,
          style: {
            text: X_LABEL,
            fontSize: 33,
            fontFamily: FONT,
            fill: "#000",
            align: "center",
            verticalAlign: "middle",
            textAlign: "center",
            textVerticalAlign: "middle",
          },
        },
        {
          type: "text",
          x: 209,
          y: 447,
          rotation: Math.PI / 2,
          silent: true,
          style: {
            text: "{m|10}{s|\u221218}{m| erg s}{s|\u22121}{m| cm}{s|\u22122}{m| \u00c5}{s|\u22121}",
            fontFamily: FONT,
            fontSize: 47,
            fill: "#000",
            align: "center",
            verticalAlign: "middle",
            textAlign: "center",
            textVerticalAlign: "middle",
            rich: {
              m: { fontSize: 47, lineHeight: 58, fontFamily: FONT, fill: "#000", color: "#000" },
              s: { fontSize: 30, lineHeight: 30, padding: [0, 0, 27, 0], fontFamily: FONT, fill: "#000", color: "#000" },
            },
          },
        },
      ],
      series: [
        {
          name: "error",
          type: "line",
          data: ERR,
          showSymbol: false,
          symbol: "none",
          clip: true,
          silent: true,
          z: 2,
          lineStyle: { color: "#008000", width: 1.5 },
          itemStyle: { color: "#008000" },
        },
        {
          name: "zero",
          type: "line",
          data: ZERO,
          showSymbol: false,
          symbol: "none",
          clip: true,
          silent: true,
          z: 3,
          lineStyle: { color: "#0000ff", width: 5.5 },
          itemStyle: { color: "#0000ff" },
        },
        {
          name: "flux",
          type: "line",
          data: FLUX,
          showSymbol: false,
          symbol: "none",
          clip: true,
          silent: true,
          z: 4,
          lineStyle: { color: "#000000", width: 4.5 },
          itemStyle: { color: "#000000" },
        },
      ],
    });
    return () => chart.dispose();
  }, []);
  return <div ref={ref} style={{ position: "absolute", left: 0, top: 0, width: 3000, height: 900 }} />;
}
